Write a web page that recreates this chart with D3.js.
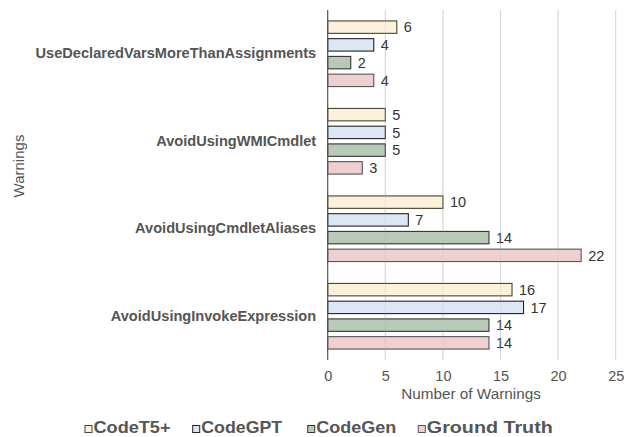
<!DOCTYPE html>
<html><head><meta charset="utf-8">
<script src="https://cdn.jsdelivr.net/npm/d3@7"></script>
<style>body{margin:0;background:#fff}svg{display:block;font-family:"Liberation Sans",Arial,Helvetica,sans-serif}</style>
</head><body><svg id="c" width="624" height="437"></svg>
<script>
const categories = ["UseDeclaredVarsMoreThanAssignments","AvoidUsingWMICmdlet","AvoidUsingCmdletAliases","AvoidUsingInvokeExpression"];
const seriesNames = ["CodeT5+","CodeGPT","CodeGen","Ground Truth"];
const codeT5 = [6,5,10,16];
const codeGPT = [4,5,7,17];
const codeGen = [2,5,14,14];
const groundTruth = [4,3,22,14];
const xTicks = [0,5,10,15,20,25];
const seriesValues = [codeT5, codeGPT, codeGen, groundTruth];
const fills = ["#fcf1da","#dce7f6","#b8c9b7","#efcfd0"];
const strokes = ["#4a4232","#222","#333","#555"];

const svg = d3.select("#c");
const pLeft = 327.7, pRight = 615.7, pTop = 10, pBottom = 360;
const x = d3.scaleLinear().domain([0,25]).range([pLeft,pRight]);
const y0 = d3.scaleBand().domain(categories).range([pTop,pBottom]).paddingInner(0.25).paddingOuter(0.125);
const y1 = d3.scaleBand().domain(seriesNames).range([0,y0.bandwidth()]).paddingInner(0.3);

// grid
svg.append("g").selectAll("line").data(xTicks.slice(1)).join("line")
  .attr("x1",d=>x(d)).attr("x2",d=>x(d)).attr("y1",pTop).attr("y2",pBottom)
  .attr("stroke","#ddd").attr("stroke-width",1);

// bars
categories.forEach((c,ci)=>{
  const g = svg.append("g").attr("transform",`translate(0,${y0(c)})`);
  seriesNames.forEach((s,si)=>{
    const v = seriesValues[si][ci];
    g.append("rect").attr("x",x(0)).attr("y",y1(s)).attr("width",x(v)-x(0)).attr("height",y1.bandwidth())
      .attr("fill",fills[si]).attr("stroke",strokes[si]).attr("stroke-width",1.1);
    g.append("text").attr("x",x(v)+7).attr("y",y1(s)+y1.bandwidth()/2).attr("dy","0.36em")
      .attr("font-size",14.5).attr("fill","#333").text(v);
  });
});
// grid overlay faint
svg.append("g").selectAll("line").data(xTicks.slice(1)).join("line")
  .attr("x1",d=>x(d)).attr("x2",d=>x(d)).attr("y1",pTop).attr("y2",pBottom)
  .attr("stroke","#bbb").attr("stroke-opacity",0.25).attr("stroke-width",1);

// y axis line
svg.append("line").attr("x1",pLeft).attr("x2",pLeft).attr("y1",pTop).attr("y2",pBottom).attr("stroke","#555").attr("stroke-width",1.2);

// x axis
const xa = svg.append("g").attr("transform",`translate(0,${pBottom})`).call(d3.axisBottom(x).tickValues(xTicks).tickSize(0).tickPadding(11));
xa.select(".domain").remove();
xa.selectAll("text").attr("font-size",14.5).attr("fill","#555").attr("font-family","inherit");

// category labels
const ya = svg.append("g").attr("transform",`translate(${pLeft},0)`).call(d3.axisLeft(y0).tickSize(0).tickPadding(11.5));
ya.select(".domain").remove();
ya.selectAll("text").attr("font-size",14.6).attr("font-weight","bold").attr("fill","#555").attr("font-family","inherit");

// axis titles
svg.append("text").attr("x",471).attr("y",398.5).attr("text-anchor","middle").attr("font-size",15.3).attr("fill","#555").text("Number of Warnings");
svg.append("text").attr("transform","translate(23.5,166) rotate(-90)").attr("text-anchor","middle").attr("font-size",15).attr("fill","#555").text("Warnings");

// legend
const legX = [85,192.7,307.7,418.3];
const legW = [77,81,80,126];
const lg = svg.append("g");
seriesNames.forEach((s,i)=>{
  lg.append("rect").attr("x",legX[i]).attr("y",425.5).attr("width",7).attr("height",7)
    .attr("fill",fills[i]).attr("stroke",strokes[i]).attr("stroke-width",1);
  lg.append("text").attr("x",legX[i]+8.5).attr("y",432.5).attr("font-size",16.5).attr("font-weight","bold").attr("fill","#555")
    .attr("textLength",legW[i]).attr("lengthAdjust","spacingAndGlyphs").text(s);
});
</script></body></html>
